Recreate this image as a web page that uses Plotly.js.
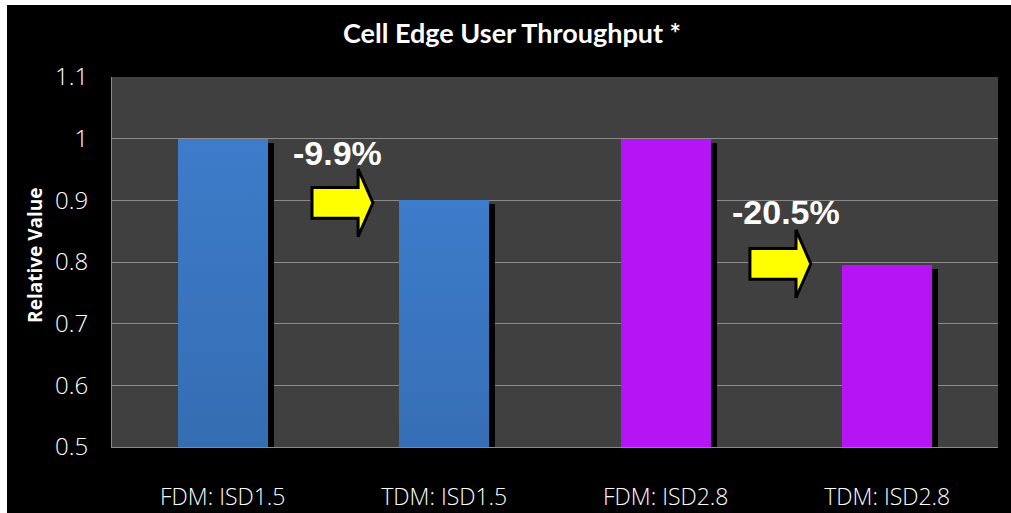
<!DOCTYPE html>
<html>
<head>
<meta charset="utf-8">
<script src="https://cdn.plot.ly/plotly-3.0.1.min.js"></script>
<style>
  html, body { margin: 0; padding: 0; background: #ffffff; width: 1011px; height: 513px; overflow: hidden; }
  #chart { position: absolute; left: 7px; top: 5px; width: 1004px; height: 508px; }
</style>
</head>
<body>
<div id="chart"></div>
<script>
// ---- data ----
const categories = ["FDM: ISD1.5", "TDM: ISD1.5", "FDM: ISD2.8", "TDM: ISD2.8"];
const values = [1.0, 0.901, 1.0, 0.795];
const barColors = ["#3b78c5", "#3b78c5", "#b515f5", "#b515f5"];
const yTicks = [0.5, 0.6, 0.7, 0.8, 0.9, 1.0, 1.1];
const yTickText = ["0.5", "0.6", "0.7", "0.8", "0.9", "1", "1.1"];
const changeLabels = ["-9.9%", "-20.5%"];

const xIdx = categories.map((c, i) => i);
const barW = 0.406;
const shadowDx = 0.027;
const shadowDy = 0.0065;

const shadow = {
  type: "bar", x: xIdx, y: values.map(v => v - shadowDy),
  width: barW, offset: -barW / 2 + shadowDx,
  marker: { color: "#000000", line: { width: 0 } },
  hoverinfo: "skip", showlegend: false
};
const bars = {
  type: "bar", x: xIdx, y: values,
  width: barW, offset: -barW / 2,
  marker: { color: barColors, line: { width: 0 } },
  showlegend: false
};

// arrow shape built around a reference point (tail-left, centre-y) in data units
function arrowPath(x0, yc) {
  const bodyLen = 0.208, headLen = 0.067, bodyH = 0.025, headH = 0.055;
  const xb = x0 + bodyLen, xt = xb + headLen;
  return `M ${x0},${yc + bodyH} L ${xb},${yc + bodyH} L ${xb},${yc + headH} L ${xt},${yc} ` +
         `L ${xb},${yc - headH} L ${xb},${yc - bodyH} L ${x0},${yc - bodyH} Z`;
}
const arrows = [
  { x0: 0.403, yc: 0.896 },
  { x0: 2.380, yc: 0.797 }
];
const shapes = arrows.map(a => ({
  type: "path", xref: "x", yref: "y", path: arrowPath(a.x0, a.yc),
  fillcolor: "#ffff00", line: { color: "#000000", width: 3 }, layer: "above"
}));

const annotations = [
  { x: 0.52, y: 0.976, text: changeLabels[0] },
  { x: 2.543, y: 0.881, text: changeLabels[1] }
].map(a => ({
  xref: "x", yref: "y", x: a.x, y: a.y, text: a.text, showarrow: false,
  xanchor: "center", yanchor: "middle",
  font: { family: "Liberation Sans, Arial, sans-serif", size: 34, color: "#ffffff", weight: 700 }
}));
annotations.push({
  xref: "paper", yref: "paper", x: -0.087, y: 0.519, text: "Relative Value",
  textangle: -90, showarrow: false, xanchor: "center", yanchor: "middle",
  font: { family: "Open Sans, sans-serif", size: 19, color: "#ffffff", weight: 700 }
});

const layout = {
  width: 1004, height: 508,
  margin: { l: 105, r: 13, t: 72, b: 66, pad: 0 },
  paper_bgcolor: "#000000",
  plot_bgcolor: "#404040",
  barmode: "overlay",
  bargap: 0,
  title: {
    text: "<b>Cell Edge User Throughput *</b>",
    xref: "container", yref: "container", x: 0.503, y: 0.944,
    xanchor: "center", yanchor: "middle",
    font: { family: "Lato, sans-serif", size: 27, color: "#ffffff" }
  },
  xaxis: {
    range: [-0.5, 3.5], tickvals: xIdx, ticktext: categories,
    showgrid: false, zeroline: false, showline: true, linecolor: "#8a8a8a", linewidth: 1,
    ticks: "", ticklabelstandoff: 29,
    tickfont: { family: "Open Sans, sans-serif", size: 23, color: "#ffffff", weight: 300 },
    fixedrange: true
  },
  yaxis: {
    range: [0.5, 1.1], tickvals: yTicks, ticktext: yTickText,
    showgrid: true, gridcolor: "#8a8a8a", gridwidth: 1,
    zeroline: false, showline: true, linecolor: "#8a8a8a", linewidth: 1,
    ticks: "", ticklabelstandoff: 18,
    tickfont: { family: "Open Sans, sans-serif", size: 24, color: "#ffffff", weight: 300 },
    fixedrange: true
  },
  shapes: shapes,
  annotations: annotations,
  showlegend: false
};

Plotly.newPlot("chart", [shadow, bars], layout, { displayModeBar: false, staticPlot: true }).then(gd => {
  // vertical gradient on the blue bars
  const svg = gd.querySelector("svg.main-svg");
  const ns = "http://www.w3.org/2000/svg";
  let defs = svg.querySelector("defs");
  if (!defs) { defs = document.createElementNS(ns, "defs"); svg.insertBefore(defs, svg.firstChild); }
  const lg = document.createElementNS(ns, "linearGradient");
  lg.setAttribute("id", "blueGrad");
  lg.setAttribute("x1", "0"); lg.setAttribute("y1", "0");
  lg.setAttribute("x2", "0"); lg.setAttribute("y2", "1");
  [["0%", "#3d7cca"], ["100%", "#2e5e9a"]].forEach(([o, c]) => {
    const s = document.createElementNS(ns, "stop");
    s.setAttribute("offset", o); s.setAttribute("stop-color", c);
    lg.appendChild(s);
  });
  defs.appendChild(lg);
  const traces = gd.querySelectorAll("g.trace.bars");
  const mainTrace = traces[traces.length - 1];
  const pts = mainTrace.querySelectorAll("g.point path");
  pts.forEach((p, i) => {
    if (barColors[i] === "#3b78c5") p.style.fill = "url(#blueGrad)";
  });
});
</script>
</body>
</html>
